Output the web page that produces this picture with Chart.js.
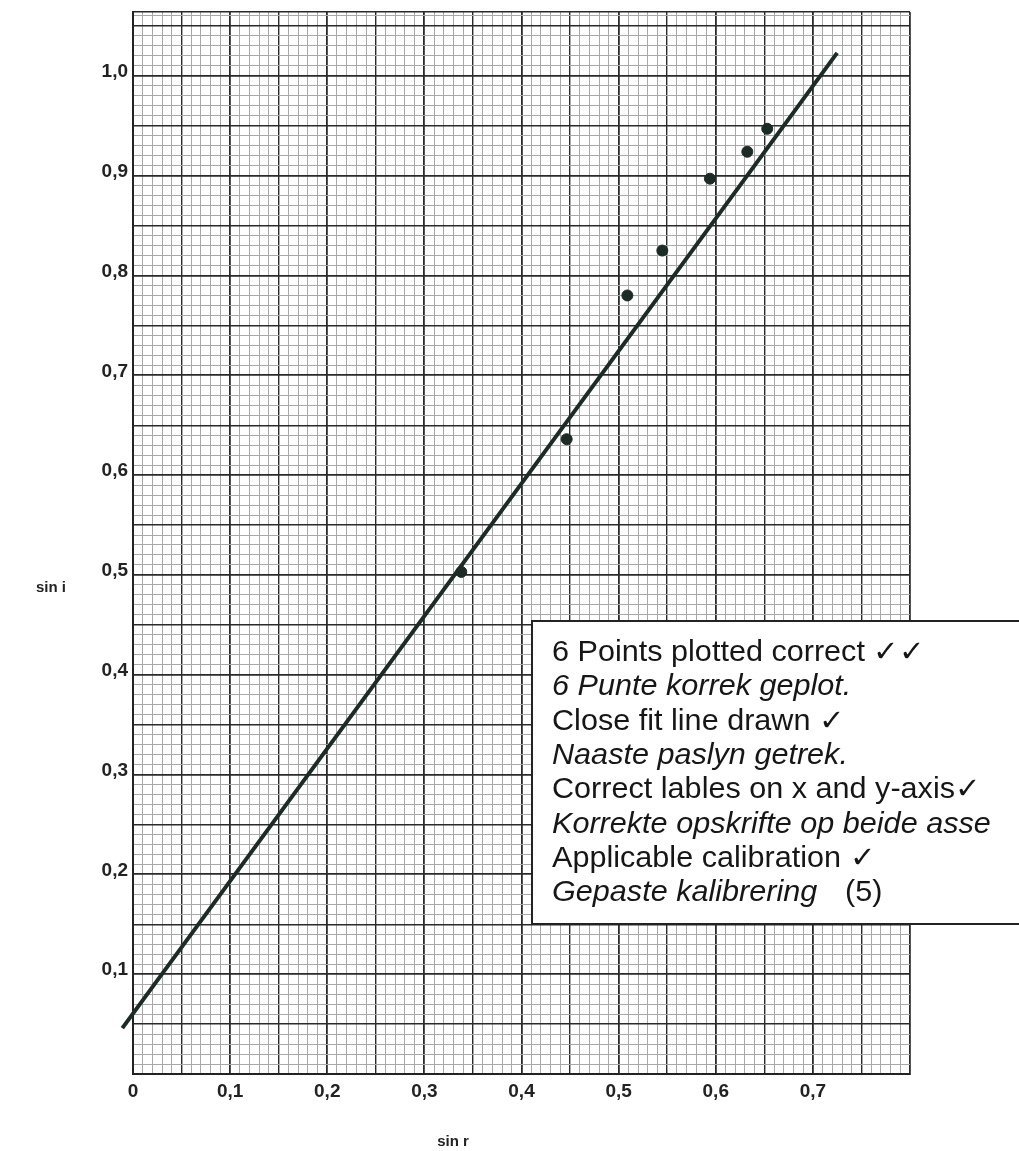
<!DOCTYPE html>
<html>
<head>
<meta charset="utf-8">
<script src="https://cdn.jsdelivr.net/npm/chart.js@4.4.1/dist/chart.umd.min.js"></script>
<style>
    html, body { margin: 0; padding: 0; background: #fff; }
    #wrap { width: 1019px; height: 1151px; position: relative; }
</style>
</head>
<body>
<div id="wrap"><canvas id="chart"></canvas></div>
<script>
// measured points (sin r, sin i)
const sinR = [0.338, 0.4465, 0.509, 0.545, 0.594, 0.6325, 0.653];
const sinI = [0.503, 0.636, 0.780, 0.825, 0.897, 0.924, 0.947];

// hand drawn best fit line, end points
const fitR = [-0.011, 0.725];
const fitI = [0.046, 1.023];

const xTickLabels = ['0', '0,1', '0,2', '0,3', '0,4', '0,5', '0,6', '0,7'];
const yTickLabels = ['', '0,1', '0,2', '0,3', '0,4', '0,5', '0,6', '0,7', '0,8', '0,9', '1,0'];

const notes = [
    { text: '6 Points plotted correct \u2713\u2713', italic: false },
    { text: '6 Punte korrek geplot.', italic: true },
    { text: 'Close fit line drawn \u2713', italic: false },
    { text: 'Naaste paslyn getrek.', italic: true },
    { text: 'Correct lables on x and y-axis\u2713', italic: false },
    { text: 'Korrekte opskrifte op beide asse', italic: true },
    { text: 'Applicable calibration \u2713', italic: false },
    { text: 'Gepaste kalibrering', italic: true },
];

const ink = '#1c2b26';
const fontFamily = '"Liberation Sans", Arial, sans-serif';

const isTenth = (value) => Math.round(value * 1000) % 100 === 0;

const gridColor = (ctx) => {
    const v = Math.round(ctx.tick.value * 1000);
    if (v % 50 === 0 || ctx.tick.value >= ctx.scale.max - 1e-9) return '#2a2a2a';
    return '#a8a8a8';
};
const gridWidth = (ctx) => {
    const v = Math.round(ctx.tick.value * 1000);
    if (v % 100 === 0) return 1.8;
    if (v % 50 === 0 || ctx.tick.value >= ctx.scale.max - 1e-9) return 1.4;
    return 1;
};
// small font on the unlabelled ticks so they don't push the chart area in
const tickFont = (ctx) => ({
    family: fontFamily,
    size: ctx.tick && isTenth(ctx.tick.value) ? 19 : 2,
    weight: 'bold'
});

const extras = {
    id: 'extras',
    afterDraw(chart) {
        const ctx = chart.ctx;
        ctx.save();
        ctx.fillStyle = '#222';
        ctx.font = 'bold 15px ' + fontFamily;
        ctx.textAlign = 'center';
        ctx.textBaseline = 'middle';
        ctx.fillText('sin i', 51, 588);
        ctx.fillText('sin r', 453, 1142);

        // marking memo box
        ctx.fillStyle = '#fff';
        ctx.fillRect(532, 621, 500, 303);
        ctx.strokeStyle = '#222';
        ctx.lineWidth = 2;
        ctx.strokeRect(532, 621, 500, 303);

        // text in the scan is a little wide, stretch it
        const sx = 1.055;
        ctx.translate(552, 0);
        ctx.scale(sx, 1);
        ctx.fillStyle = '#161616';
        ctx.textAlign = 'left';
        ctx.textBaseline = 'alphabetic';
        notes.forEach((n, i) => {
            ctx.font = (n.italic ? 'italic ' : '') + '29px ' + fontFamily;
            ctx.fillText(n.text, 0, 661 + i * 34.3);
        });
        ctx.font = '29px ' + fontFamily;
        ctx.fillText('(5)', (845 - 552) / sx, 661 + 7 * 34.3);
        ctx.restore();
    }
};

const config = {
    type: 'scatter',
    data: {
        datasets: [{
            label: 'fit',
            data: fitR.map((r, i) => ({ x: r, y: fitI[i] })),
            showLine: true,
            borderColor: ink,
            borderWidth: 4,
            pointRadius: 0,
            clip: false,
            order: 2,
        }, {
            label: 'points',
            data: sinR.map((r, i) => ({ x: r, y: sinI[i] })),
            backgroundColor: ink,
            borderColor: ink,
            pointRadius: 5.5,
            order: 1,
        }]
    },
    options: {
        responsive: true,
        maintainAspectRatio: false,
        animation: false,
        layout: { padding: { left: 0, top: 12, right: 109, bottom: 0 } },
        plugins: {
            legend: { display: false },
            tooltip: { enabled: false },
        },
        scales: {
            x: {
                type: 'linear',
                min: 0,
                max: 0.8,
                afterFit: (scale) => { scale.height = 77; },
                grid: { color: gridColor, lineWidth: gridWidth, drawTicks: false },
                border: { color: '#222', width: 2 },
                ticks: {
                    stepSize: 0.01,
                    autoSkip: false,
                    maxRotation: 0,
                    padding: 6,
                    color: '#222',
                    font: tickFont,
                    callback: (value) => {
                        if (!isTenth(value)) return '';
                        return xTickLabels[Math.round(value * 10)] || '';
                    }
                }
            },
            y: {
                type: 'linear',
                min: 0,
                max: 1.064,
                afterFit: (scale) => { scale.width = 133; },
                grid: { color: gridColor, lineWidth: gridWidth, drawTicks: false },
                border: { color: '#222', width: 2 },
                ticks: {
                    stepSize: 0.01,
                    autoSkip: false,
                    padding: 5,
                    labelOffset: -4,
                    color: '#222',
                    font: tickFont,
                    callback: (value) => {
                        if (!isTenth(value)) return '';
                        return yTickLabels[Math.round(value * 10)] || '';
                    }
                }
            }
        }
    },
    plugins: [extras]
};

new Chart(document.getElementById('chart'), config);
</script>
</body>
</html>
